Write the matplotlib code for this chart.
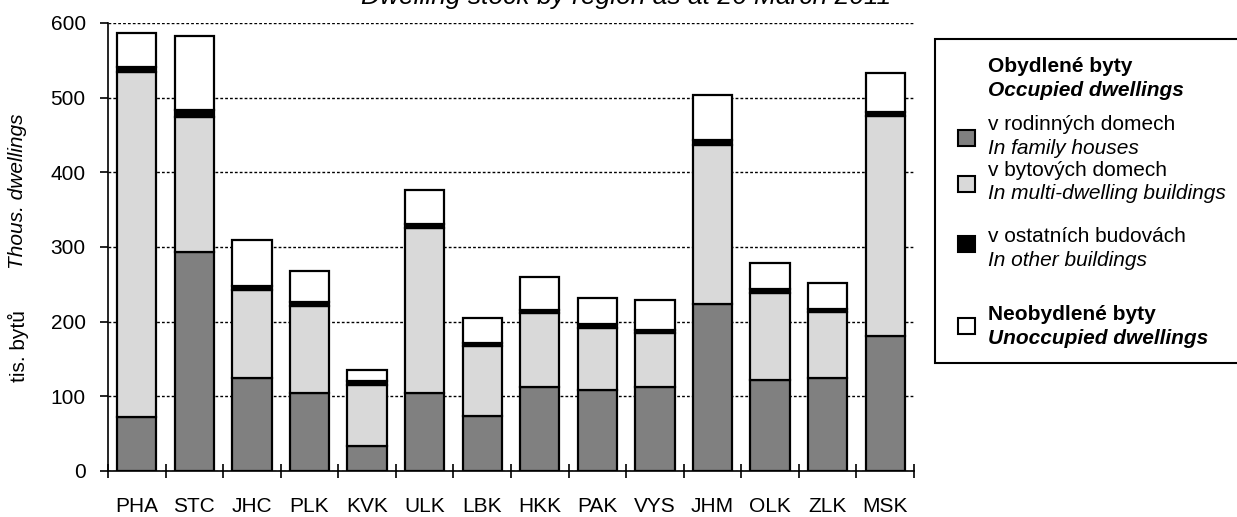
import matplotlib.pyplot as plt
import numpy as np
from matplotlib.patches import Rectangle

plt.rcParams['font.family'] = ['Liberation Sans', 'DejaVu Sans']

regions = ['PHA', 'STC', 'JHC', 'PLK', 'KVK', 'ULK', 'LBK', 'HKK', 'PAK', 'VYS', 'JHM', 'OLK', 'ZLK', 'MSK']
# thousands of dwellings
family = [72, 293, 124, 104, 33, 105, 74, 112, 108, 113, 224, 122, 125, 181]
multi = [463, 181, 118, 117, 82, 220, 93, 99, 83, 72, 212, 117, 88, 294]
other = [6, 9, 6, 6, 5, 6, 4, 4, 6, 4, 7, 5, 4, 6]
unocc = [46, 99, 61, 41, 15, 46, 34, 45, 35, 40, 60, 35, 35, 52]

colors = ['#808080', '#d9d9d9', '#000000', '#ffffff']

W, H = 1237, 517
fig = plt.figure(figsize=(W / 100, H / 100), dpi=100)
ax = fig.add_axes([108 / W, 1 - 471 / H, (914 - 108) / W, (471 - 23) / H])


def fx(px):
    return px / W


def fy(py):
    return 1 - py / H


x = np.arange(len(regions))
bottom = np.zeros(len(regions))
for vals, c in zip([family, multi, other, unocc], colors):
    ax.bar(x, vals, 0.68, bottom=bottom, color=c, edgecolor='black', linewidth=1.6, zorder=3)
    bottom += np.array(vals)

ax.set_xlim(-0.5, len(regions) - 0.5)
ax.set_ylim(0, 600)
ax.set_yticks(range(0, 601, 100))
ax.yaxis.grid(True, color='black', linestyle=(0, (2, 1.5)), linewidth=1)
ax.set_axisbelow(True)

ax.set_xticks(np.arange(-0.5, len(regions), 1))
ax.set_xticklabels([])
ax.set_xticks(x, minor=True)
ax.set_xticklabels(regions, minor=True)
ax.tick_params(axis='x', which='major', direction='inout', length=10, width=1.2)
ax.tick_params(axis='x', which='minor', length=0, pad=19, labelsize=15)
ax.tick_params(axis='y', direction='out', length=6, width=1.2, pad=10, labelsize=15)

for s in ['top', 'right']:
    ax.spines[s].set_visible(False)
for s in ['left', 'bottom']:
    ax.spines[s].set_linewidth(1.2)

# y axis captions, Czech and English
fig.text(fx(18), fy(346), 'tis. bytů', rotation=90, ha='center', va='center', fontsize=15)
fig.text(fx(18), fy(191), 'Thous. dwellings', rotation=90, ha='center', va='center', fontsize=15,
         style='italic')

fig.text(fx(626), fy(4), 'Dwelling stock by region as at 26 March 2011', ha='center', va='baseline',
         fontsize=19, style='italic')

# legend box (runs off the right edge)
fig.add_artist(Rectangle((fx(935), fy(363)), fx(1260) - fx(935), fy(39) - fy(363),
                         transform=fig.transFigure, facecolor='white', edgecolor='black', linewidth=1.5))
tx = fx(988)
fig.text(tx, fy(67), 'Obydlené byty', fontsize=15, weight='bold', va='center')
fig.text(tx, fy(90), 'Occupied dwellings', fontsize=15, weight='bold', style='italic', va='center')

items = [
    ('v rodinných domech', 'In family houses', colors[0], 125, 148, 138),
    ('v bytových domech', 'In multi-dwelling buildings', colors[1], 171, 194, 184),
    ('v ostatních budovách', 'In other buildings', colors[2], 236, 260, 244),
    ('Neobydlené byty', 'Unoccupied dwellings', colors[3], 315, 338, 326),
]
for i, (cz, en, c, y1, y2, yp) in enumerate(items):
    fig.add_artist(Rectangle((fx(958), fy(yp + 8)), fx(17), 16 / H, transform=fig.transFigure,
                             facecolor=c, edgecolor='black', linewidth=1.5))
    if i == 3:
        fig.text(tx, fy(y1), cz, fontsize=15, weight='bold', va='center')
        fig.text(tx, fy(y2), en, fontsize=15, weight='bold', style='italic', va='center')
    else:
        fig.text(tx, fy(y1), cz, fontsize=15, va='center')
        fig.text(tx, fy(y2), en, fontsize=15, style='italic', va='center')

fig.savefig('out.png', dpi=100)
